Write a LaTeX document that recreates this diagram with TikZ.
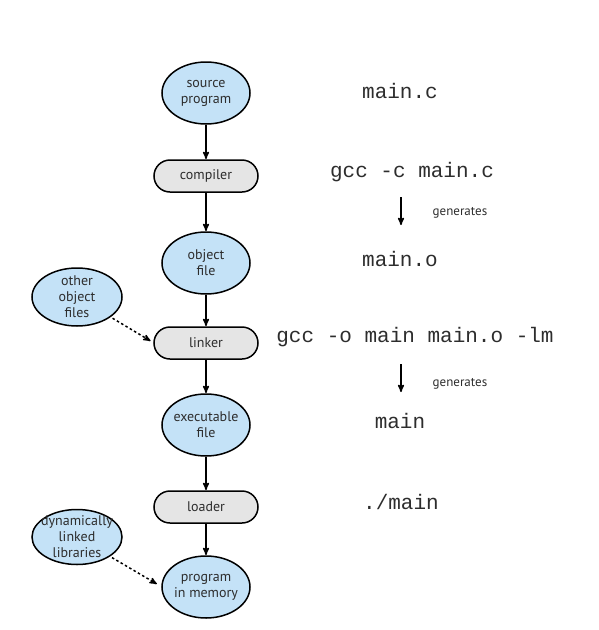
\documentclass[tikz,border=0pt]{standalone}
\usepackage{fontspec}
\setsansfont{PT Sans}
\setmonofont{Liberation Mono}
\usetikzlibrary{arrows,shapes,positioning}
\definecolor{fileblue}{RGB}{196,226,247}
\definecolor{toolgray}{RGB}{229,229,229}
\definecolor{inkgray}{RGB}{45,45,45}

\begin{document}
\begin{tikzpicture}
          [x=1pt, y=-1pt,
           file/.style={draw, ellipse, line width=1.5pt, fill=fileblue, text=inkgray,
             minimum width=88pt, minimum height=62pt, inner sep=-10pt, outer sep=0pt,
             align=center, font=\sffamily\fontsize{14}{16}\selectfont},
           tool/.style={draw, rounded corners=16pt, line width=1.5pt, fill=toolgray, text=inkgray,
             minimum width=104pt, minimum height=32pt, outer sep=0pt,
             font=\sffamily\fontsize{14}{16}\selectfont},
           cmd/.style={text=inkgray, font=\ttfamily\fontsize{21}{24}\selectfont},
           note/.style={text=inkgray, font=\sffamily\fontsize{13}{15}\selectfont},
           flow/.style={->, >=stealth', line width=1.5pt, shorten >=1pt, shorten <=1pt},
           extra/.style={->, >=stealth', line width=1.5pt, dash pattern=on 2.5pt off 2.5pt}]
          \useasboundingbox (0,0) rectangle (599,630);

          % build chain
          \node[file] (source) at (206,93) {source\\program};
          \node[tool] (compiler) [below = 36pt of source] {compiler};
          \node[file] (object) [below = 40pt of compiler] {object\\file};
          \node[tool] (linker) [below = 33pt of object] {linker};
          \node[file] (exe) [below = 35pt of linker] {executable\\file};
          \node[tool] (loader) [below = 35pt of exe] {loader};
          \node[file] (memory) [below = 33pt of loader] {program\\in memory};

          % side inputs
          \node[file, minimum width=90pt, minimum height=58pt] (others) at (77,297) {other\\object\\files};
          \node[file, minimum width=90pt, minimum height=55pt] (dynlibs) at (77,537) {dynamically\\linked\\libraries};

          \draw[flow] (source) -- (compiler);
          \draw[flow] (compiler) -- (object);
          \draw[flow] (object) -- (linker);
          \draw[flow] (linker) -- (exe);
          \draw[flow] (exe) -- (loader);
          \draw[flow] (loader) -- (memory);

          \draw[extra, shorten <=3pt, shorten >=4pt] (others) -- (linker.west);
          \draw[extra, shorten <=3pt, shorten >=6pt] (dynlibs) -- (memory.west);

          % commands
          \node[cmd] (srcname) at (400,91) {main.c};
          \node[cmd] (ccmd) at (412,172) {gcc -c main.c};
          \node[cmd] (objname) at (400,259) {main.o};
          \node[cmd] (lcmd) at (415,337) {gcc -o main main.o -lm};
          \node[cmd] (exename) at (400,421) {main};
          \node[cmd] (runcmd) at (401,502) {./main};

          \coordinate (gentop1) at (401,196);
          \coordinate (genbot1) at (401,226);
          \coordinate (gentop2) at (401,363);
          \coordinate (genbot2) at (401,393);
          \node[note] (gen1) at (460,213) {generates};
          \node[note] (gen2) at (460,384) {generates};
          \draw[flow] (gentop1) -- (genbot1);
          \draw[flow] (gentop2) -- (genbot2);
        \end{tikzpicture}
\end{document}
